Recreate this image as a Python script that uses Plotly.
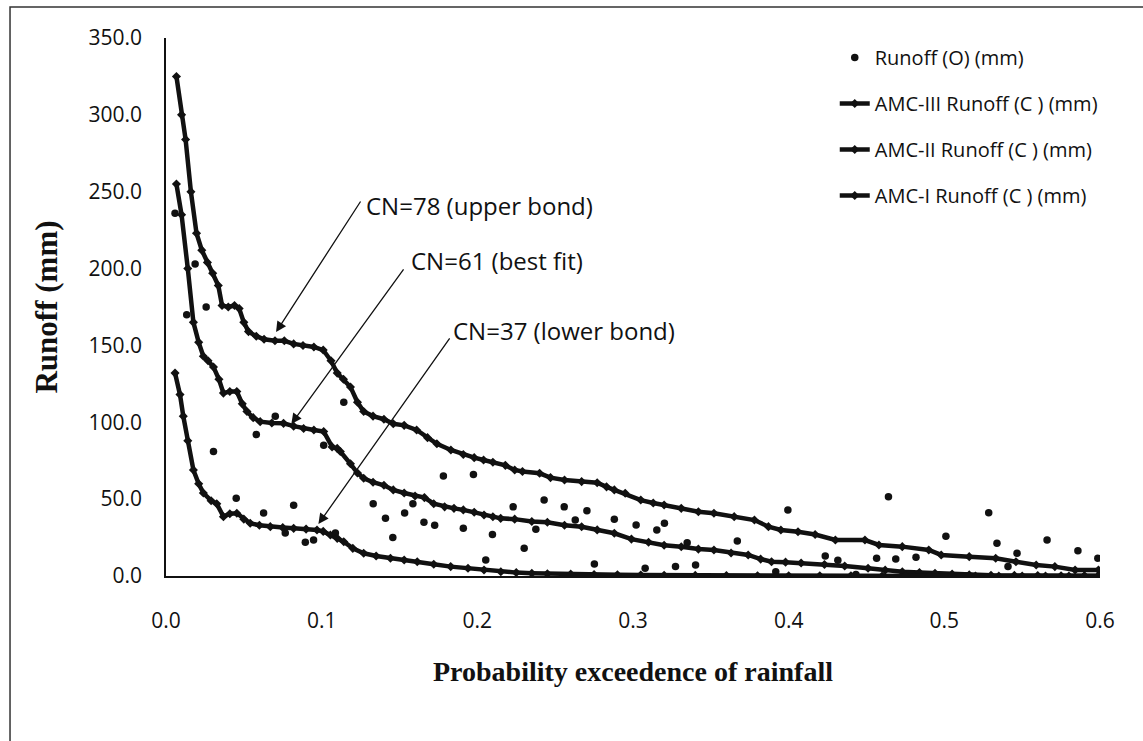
import plotly.graph_objects as go

# Probability of exceedence (x) for the computed runoff curves and observed runoff
x_amc3 = [0.0067, 0.0100, 0.0126, 0.0160, 0.0196, 0.0230, 0.0266, 0.0300, 0.0336, 0.0360,
          0.0400, 0.0440, 0.0470, 0.0500, 0.0530, 0.0580, 0.0630, 0.0700, 0.0760, 0.0820,
          0.0880, 0.0950, 0.1010, 0.1060, 0.1100, 0.1140, 0.1185, 0.1230, 0.1270, 0.1330,
          0.1400, 0.1460, 0.1530, 0.1610, 0.1680, 0.1740, 0.1830, 0.1910, 0.1980, 0.2040,
          0.2100, 0.2180, 0.2240, 0.2290, 0.2400, 0.2470, 0.2560, 0.2670, 0.2770, 0.2830,
          0.2880, 0.2950, 0.3050, 0.3130, 0.3200, 0.3310, 0.3420, 0.3520, 0.3650, 0.3780,
          0.3870, 0.3950, 0.4060, 0.4170, 0.4300, 0.4490, 0.4580, 0.4730, 0.4900, 0.4980,
          0.5160, 0.5330, 0.5460, 0.5590, 0.5710, 0.5840, 0.5990]
y_amc3 = [325.0, 300.0, 284.0, 250.0, 223.0, 212.0, 204.0, 197.0, 189.0, 176.0,
          175.0, 176.0, 174.0, 165.0, 159.0, 156.0, 154.0, 153.0, 153.0, 151.0,
          150.0, 149.0, 147.0, 140.0, 132.0, 128.0, 123.0, 113.0, 107.0, 104.0,
          102.0, 99.0, 98.0, 95.0, 90.0, 86.0, 82.0, 79.0, 77.0, 75.5,
          74.0, 72.0, 69.0, 68.0, 66.8, 64.0, 62.5, 61.4, 60.7, 58.0,
          56.0, 53.8, 49.4, 47.5, 46.2, 44.0, 41.8, 40.8, 38.6, 36.4,
          32.1, 29.9, 28.8, 27.0, 23.4, 23.4, 20.2, 19.1, 16.9, 13.7,
          12.6, 11.5, 9.3, 7.2, 6.1, 3.9, 3.9]

x_amc2 = [0.0067, 0.0100, 0.0140, 0.0176, 0.0210, 0.0240, 0.0270, 0.0305, 0.0340, 0.0369,
          0.0410, 0.0455, 0.0490, 0.0520, 0.0560, 0.0605, 0.0680, 0.0755, 0.0820, 0.0884,
          0.0950, 0.1013, 0.1067, 0.1100, 0.1120, 0.1185, 0.1230, 0.1270, 0.1330, 0.1400,
          0.1460, 0.1530, 0.1600, 0.1660, 0.1720, 0.1790, 0.1850, 0.1910, 0.1980, 0.2043,
          0.2100, 0.2150, 0.2240, 0.2350, 0.2450, 0.2560, 0.2670, 0.2770, 0.2880, 0.2990,
          0.3100, 0.3200, 0.3310, 0.3420, 0.3520, 0.3630, 0.3740, 0.3820, 0.3890, 0.3980,
          0.4080, 0.4230, 0.4360, 0.4510, 0.4620, 0.4730, 0.4840, 0.4940, 0.5050, 0.5160,
          0.5300, 0.5450, 0.5600, 0.5750, 0.5900, 0.5990]
y_amc2 = [255.0, 235.0, 200.0, 165.0, 152.0, 143.0, 140.0, 136.0, 128.0, 119.0,
          120.0, 120.0, 112.0, 107.0, 103.0, 100.4, 99.5, 99.3, 97.5, 96.0,
          95.0, 94.0, 84.0, 83.0, 81.0, 73.0, 67.0, 63.6, 61.0, 59.0,
          56.0, 54.0, 52.0, 51.0, 47.0, 45.0, 44.0, 43.0, 41.5, 39.7,
          38.5, 37.5, 37.0, 35.5, 35.0, 33.0, 32.0, 30.0, 27.8, 24.0,
          22.0, 20.0, 19.0, 17.5, 16.9, 15.0, 13.7, 11.0, 9.3, 9.0,
          8.5, 7.5, 6.5, 5.0, 3.8, 2.8, 2.2, 1.8, 1.2, 0.7,
          0.5, 0.4, 0.3, 0.2, 0.1, 0.1]

x_amc1 = [0.0058, 0.0090, 0.0111, 0.0140, 0.0176, 0.0210, 0.0240, 0.0290, 0.0326, 0.0369,
          0.0410, 0.0455, 0.0500, 0.0541, 0.0600, 0.0670, 0.0750, 0.0820, 0.0900, 0.0970,
          0.1010, 0.1056, 0.1100, 0.1142, 0.1200, 0.1270, 0.1350, 0.1442, 0.1530, 0.1614,
          0.1720, 0.1829, 0.1940, 0.2043, 0.2151, 0.2250, 0.2350, 0.2450, 0.2600, 0.2750,
          0.2900, 0.3050, 0.3200, 0.3400, 0.3600, 0.3800, 0.4000, 0.4200, 0.4400, 0.4600,
          0.4750, 0.4900, 0.5050, 0.5200, 0.5350, 0.5500, 0.5650, 0.5800, 0.5900, 0.5990]
y_amc1 = [132.0, 118.0, 104.0, 88.0, 69.0, 60.0, 54.0, 49.0, 47.0, 38.6,
          40.5, 40.8, 37.0, 34.3, 33.0, 32.1, 31.5, 31.0, 30.5, 29.9,
          29.0, 26.7, 24.5, 22.3, 18.0, 14.8, 13.0, 11.5, 10.4, 9.3,
          7.6, 6.1, 5.0, 3.9, 2.8, 2.2, 1.8, 1.5, 1.2, 1.0,
          0.8, 0.6, 0.5, 0.4, 0.3, 0.2, 0.2, 0.1, 0.1, 0.0,
          0.0, 0.0, 0.0, 0.0, 0.0, 0.0, 0.0, 0.0, 0.0, 0.0]

x_obs = [0.0058, 0.0133, 0.0187, 0.0258, 0.0305, 0.0451, 0.0580, 0.0627, 0.0702, 0.0766,
         0.0820, 0.0895, 0.0948, 0.1013, 0.1088, 0.1142, 0.1331, 0.1410, 0.1457, 0.1533,
         0.1586, 0.1657, 0.1726, 0.1782, 0.1910, 0.1975, 0.2054, 0.2097, 0.2230, 0.2301,
         0.2376, 0.2429, 0.2558, 0.2629, 0.2704, 0.2752, 0.2880, 0.3020, 0.3078, 0.3153,
         0.3202, 0.3273, 0.3348, 0.3402, 0.3670, 0.3917, 0.3995, 0.4235, 0.4316, 0.4432,
         0.4565, 0.4641, 0.4688, 0.4818, 0.5010, 0.5145, 0.5285, 0.5338, 0.5409, 0.5467,
         0.5660, 0.5858, 0.5986]
y_obs = [236.0, 170.0, 203.0, 175.0, 81.0, 50.5, 92.0, 41.0, 104.0, 28.0,
         46.0, 22.0, 23.4, 85.0, 28.0, 113.0, 47.0, 37.5, 25.0, 41.0,
         47.0, 35.0, 33.0, 65.0, 31.0, 66.0, 10.4, 27.0, 45.0, 18.0,
         30.4, 49.4, 45.0, 36.4, 42.5, 7.8, 36.9, 33.2, 5.0, 29.9,
         34.3, 6.1, 21.7, 7.2, 22.8, 2.8, 42.9, 13.0, 10.2, 1.0,
         11.5, 51.6, 11.1, 12.2, 25.8, 0.0, 41.2, 21.3, 6.1, 14.8,
         23.4, 16.5, 11.5]

series_names = ["Runoff (O) (mm)", "AMC-III Runoff (C ) (mm)",
                "AMC-II Runoff (C ) (mm)", "AMC-I Runoff (C ) (mm)"]
y_ticks = [0, 50, 100, 150, 200, 250, 300, 350]
x_ticks = [0.0, 0.1, 0.2, 0.3, 0.4, 0.5, 0.6]

SANS = "Open Sans"
SERIF = "Liberation Serif"
INK = "#111111"

fig = go.Figure()

fig.add_trace(go.Scatter(
    x=x_obs, y=y_obs, mode="markers", name=series_names[0], legendgroup="o",
    marker=dict(symbol="circle", size=7.5, color=INK),
))
for xs, ys, nm, grp in [(x_amc3, y_amc3, series_names[1], "c3"),
                        (x_amc2, y_amc2, series_names[2], "c2"),
                        (x_amc1, y_amc1, series_names[3], "c1")]:
    fig.add_trace(go.Scatter(
        x=xs, y=ys, mode="lines+markers", name=nm, legendgroup=grp,
        line=dict(color=INK, width=4.5),
        marker=dict(symbol="diamond", size=7, color=INK),
    ))

# Curve labels with arrows pointing at each computed curve
labels = [
    ("CN=78 (upper bond)", 0.1269, 241.0, 0.1256, 244.6, 0.0707, 158.7),
    ("CN=61 (best fit)", 0.1558, 205.0, 0.1533, 200.4, 0.0805, 98.9),
    ("CN=37 (lower bond)", 0.1829, 160.0, 0.1829, 155.5, 0.0979, 33.8),
]
for txt, tx, ty, ax_, ay_, hx, hy in labels:
    fig.add_annotation(x=hx, y=hy, ax=ax_, ay=ay_, axref="x", ayref="y",
                       xref="x", yref="y", text="", showarrow=True,
                       arrowhead=2, arrowsize=1.6, arrowwidth=1.3, arrowcolor=INK)
    fig.add_annotation(x=tx, y=ty, xref="x", yref="y", text=txt, showarrow=False,
                       xanchor="left", yanchor="middle",
                       font=dict(family=SANS, size=24, color=INK))

# Axis titles
fig.add_annotation(text="<b>Runoff (mm)</b>", xref="paper", yref="paper",
                   x=-0.129, y=0.5, textangle=-90, showarrow=False,
                   xanchor="center", yanchor="middle",
                   font=dict(family=SERIF, size=31, color=INK))
fig.add_annotation(text="<b>Probability exceedence of rainfall</b>", xref="paper",
                   yref="paper", x=0.5, y=-0.178, showarrow=False,
                   xanchor="center", yanchor="middle",
                   font=dict(family=SERIF, size=28, color=INK))

# Outer chart frame
fig.add_shape(type="rect", xref="paper", yref="paper",
              x0=-0.167, x1=1.1, y0=-0.4, y1=1.0576,
              line=dict(color="#333333", width=1.5), fillcolor="rgba(0,0,0,0)")

fig.update_xaxes(range=[0, 0.6], tickvals=x_ticks, tickformat=".1f",
                 showline=True, linecolor=INK, linewidth=1.5, showgrid=False,
                 zeroline=False, ticks="", ticklabelstandoff=25,
                 tickfont=dict(family=SANS, size=21, color=INK))
fig.update_yaxes(range=[0, 350], tickvals=y_ticks, tickformat=".1f",
                 showline=True, linecolor=INK, linewidth=1.5, showgrid=False,
                 zeroline=False, ticks="", ticklabelstandoff=18,
                 tickfont=dict(family=SANS, size=21, color=INK))

fig.update_layout(
    width=1143, height=741,
    margin=dict(l=166, r=43, t=38, b=165),
    paper_bgcolor="white", plot_bgcolor="white",
    showlegend=True,
    legend=dict(x=0.716, y=1.0, xanchor="left", yanchor="top",
                traceorder="grouped", tracegroupgap=17,
                font=dict(family=SANS, size=20, color=INK),
                bgcolor="rgba(0,0,0,0)", borderwidth=0),
)

fig.write_html("out.html")
